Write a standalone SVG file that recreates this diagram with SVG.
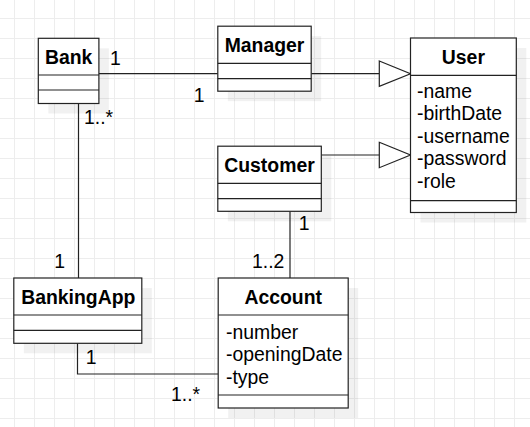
<svg xmlns="http://www.w3.org/2000/svg" width="530" height="427" viewBox="0 0 530 427">
<style>
.box{fill:#fff;stroke:#222;stroke-width:1.2}
.sh{fill:#000;fill-opacity:0.055}
.ln{stroke:#222;stroke-width:1.2;fill:none}
.tri{fill:#fff;stroke:#222;stroke-width:1.2}
.t{font-family:"Liberation Sans",Arial,sans-serif;font-size:19.4px;fill:#000}
.b{font-weight:bold;text-anchor:middle}
</style>
<defs>
<pattern id="grid" patternUnits="userSpaceOnUse" x="14" y="18" width="20" height="20">
<path d="M0.5 0V20M0 0.5H20" stroke="#ededed" stroke-width="1" fill="none"/>
</pattern>
</defs>
<rect width="530" height="427" fill="#fff"/>
<rect width="530" height="427" fill="url(#grid)"/>

<g id="connectors">
<path class="ln" d="M98.9 73.7H217.8"/>
<path class="ln" d="M311.2 73.7H379.3"/>
<polygon class="tri" points="379.3,61 410.5,73.7 379.3,86.4"/>
<path class="ln" d="M321.3 155H379.3"/>
<polygon class="tri" points="379.3,142.3 410.5,155 379.3,167.7"/>
<path class="ln" d="M78.5 103.5V278"/>
<path class="ln" d="M77.5 343.3V374H218.2"/>
<path class="ln" d="M290 211.3V278"/>
<text class="t" x="110" y="65">1</text>
<text class="t" x="193.8" y="102">1</text>
<text class="t" x="84" y="124">1..*</text>
<text class="t" x="54.3" y="268">1</text>
<text class="t" x="85.8" y="364">1</text>
<text class="t" x="171" y="401">1..*</text>
<text class="t" x="298.8" y="230">1</text>
<text class="t" x="252" y="268">1..2</text>
</g>

<g id="Bank">
<rect class="sh" x="48.3" y="48.3" width="60.6" height="65.2"/>
<rect class="box" x="38.3" y="38.3" width="60.6" height="65.2"/>
<path class="ln" d="M38.3 75H98.9M38.3 90H98.9"/>
<text class="t b" x="68.6" y="64">Bank</text>
</g>

<g id="Manager">
<rect class="sh" x="227.8" y="36.2" width="93.4" height="65"/>
<rect class="box" x="217.8" y="26.2" width="93.4" height="65"/>
<path class="ln" d="M217.8 63.3H311.2M217.8 78.7H311.2"/>
<text class="t b" x="264.5" y="52">Manager</text>
</g>

<g id="User">
<rect class="sh" x="420.5" y="48" width="105.8" height="174.5"/>
<rect class="box" x="410.5" y="38" width="105.8" height="174.5"/>
<path class="ln" d="M410.5 75.3H516.3M410.5 200.7H516.3"/>
<text class="t b" x="463.4" y="64.3">User</text>
<text class="t" x="417" y="97.5">-name</text>
<text class="t" x="417" y="120">-birthDate</text>
<text class="t" x="417" y="142.5">-username</text>
<text class="t" x="417" y="165">-password</text>
<text class="t" x="417" y="187.5">-role</text>
</g>

<g id="Customer">
<rect class="sh" x="227.8" y="156.2" width="103.5" height="65.1"/>
<rect class="box" x="217.8" y="146.2" width="103.5" height="65.1"/>
<path class="ln" d="M217.8 183.3H321.3M217.8 198.7H321.3"/>
<text class="t b" x="269.5" y="172">Customer</text>
</g>

<g id="BankingApp">
<rect class="sh" x="23.8" y="288" width="128" height="65.3"/>
<rect class="box" x="13.8" y="278" width="128" height="65.3"/>
<path class="ln" d="M13.8 315H141.8M13.8 330.3H141.8"/>
<text class="t b" x="78.3" y="304.3">BankingApp</text>
</g>

<g id="Account">
<rect class="sh" x="228.2" y="288" width="130" height="130"/>
<rect class="box" x="218.2" y="278" width="130" height="130"/>
<path class="ln" d="M218.2 315H348.2M218.2 395H348.2"/>
<text class="t b" x="283.2" y="304.3">Account</text>
<text class="t" x="226" y="338.5">-number</text>
<text class="t" x="226" y="361">-openingDate</text>
<text class="t" x="226" y="383.5">-type</text>
</g>
</svg>
